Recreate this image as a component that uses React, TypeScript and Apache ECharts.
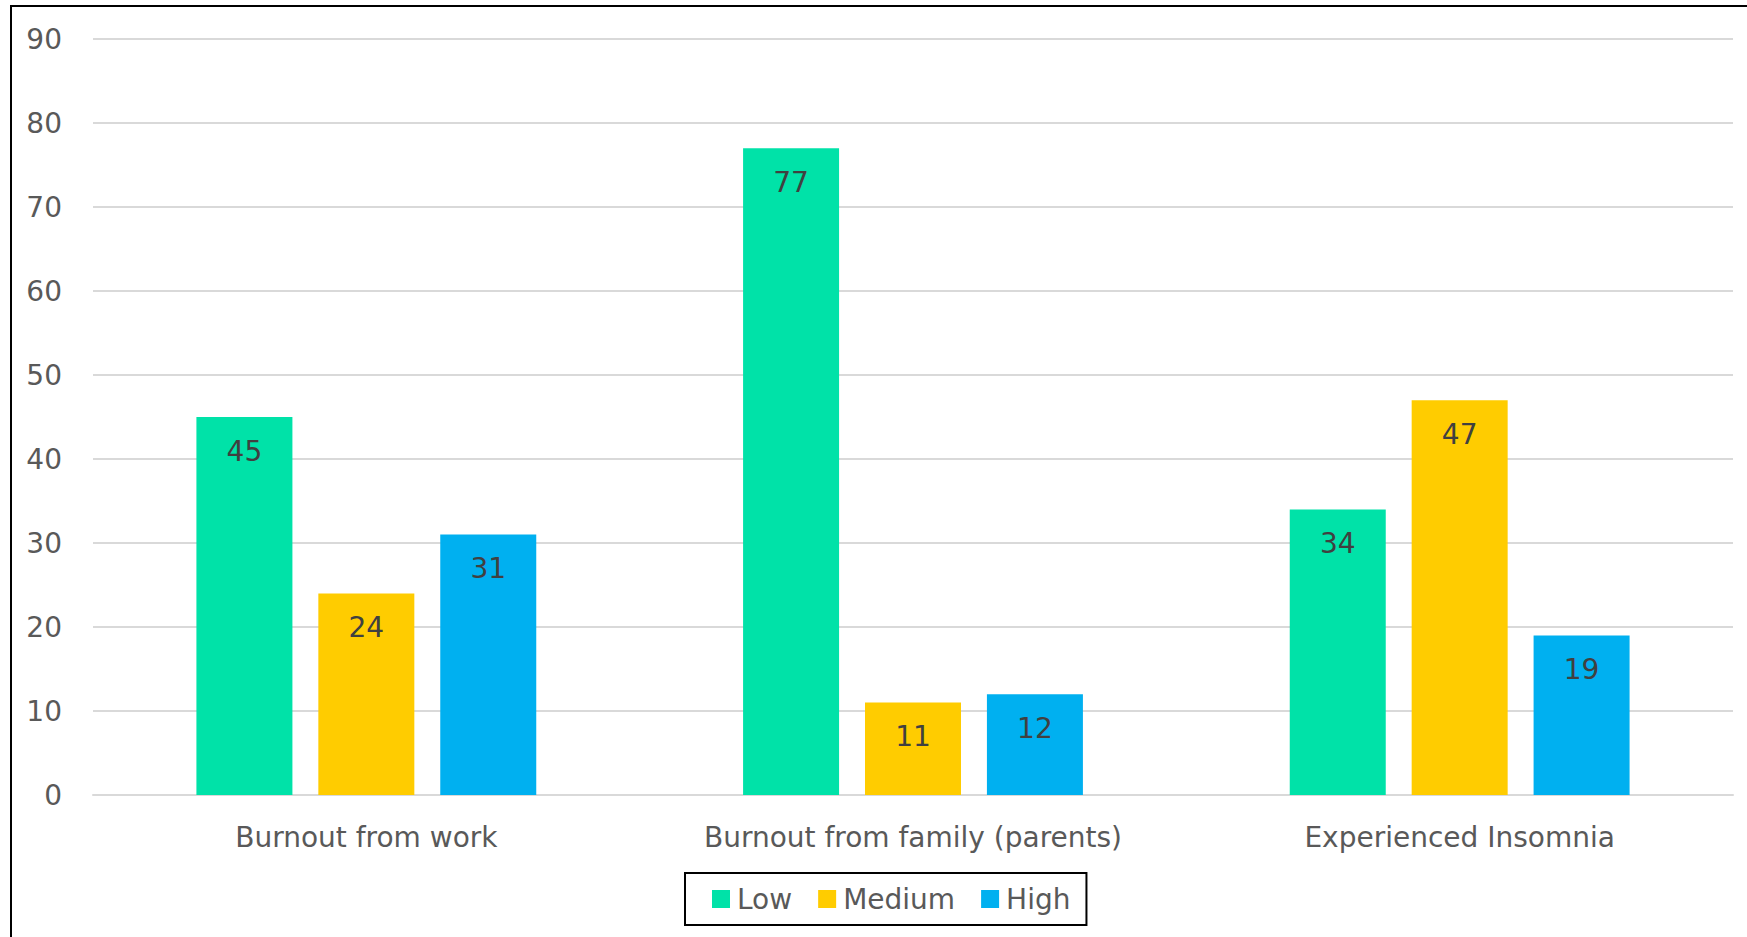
import React, { useEffect, useRef } from "react";
import * as echarts from "echarts";

const categories = ["Burnout from work", "Burnout from family (parents)", "Experienced Insomnia"];
const seriesNames = ["Low", "Medium", "High"];
const lowValues = [45, 77, 34];
const mediumValues = [24, 11, 47];
const highValues = [31, 12, 19];
const colors = ["#00E2A8", "#FFCC00", "#00B0F0"];

const FONT = "DejaVu Sans";

export default function App() {
  const ref = useRef<HTMLDivElement>(null);
  useEffect(() => {
    if (!ref.current) return;
    const chart = echarts.init(ref.current, null, { renderer: "svg" });
    const values = [lowValues, mediumValues, highValues];
    chart.setOption({
      animation: false,
      backgroundColor: "#ffffff",
      grid: { left: 93, right: 14, top: 39, bottom: 142, containLabel: false },
      xAxis: {
        type: "category",
        data: categories,
        axisLine: { show: true, lineStyle: { color: "#d9d9d9", width: 2 } },
        axisTick: { show: false },
        axisLabel: { color: "#595959", fontSize: 28, fontFamily: FONT, margin: 28 },
      },
      yAxis: {
        type: "value",
        min: 0,
        max: 90,
        interval: 10,
        axisLine: { show: false },
        axisTick: { show: false },
        axisLabel: { color: "#595959", fontSize: 28, fontFamily: FONT, margin: 31 },
        splitLine: { lineStyle: { color: "#d9d9d9", width: 2 } },
      },
      legend: {
        data: seriesNames,
        left: 685,
        top: 873,
        orient: "horizontal",
        icon: "rect",
        itemWidth: 18,
        itemHeight: 18,
        itemGap: 26,
        borderColor: "#000000",
        borderWidth: 2,
        padding: [12, 16, 12, 27],
        textStyle: { color: "#595959", fontSize: 28, fontFamily: FONT, padding: [0, 0, 0, 2] },
      },
      graphic: [
        { type: "line", shape: { x1: 11, y1: 6, x2: 11, y2: 937 }, style: { stroke: "#000", lineWidth: 2 } },
        { type: "line", shape: { x1: 10, y1: 6, x2: 1747, y2: 6 }, style: { stroke: "#000", lineWidth: 2 } },
      ],
      series: seriesNames.map((name, i) => ({
        name,
        type: "bar",
        data: values[i],
        barWidth: 96,
        barGap: "27%",
        itemStyle: { color: colors[i] },
        label: {
          show: true,
          position: "insideTop",
          distance: 20,
          color: "#404040",
          fontSize: 28,
          fontFamily: FONT,
        },
      })),
    });
    return () => chart.dispose();
  }, []);
  return (
    <div
      ref={ref}
      style={{ position: "fixed", left: 0, top: 0, width: 1747, height: 937 }}
    />
  );
}
